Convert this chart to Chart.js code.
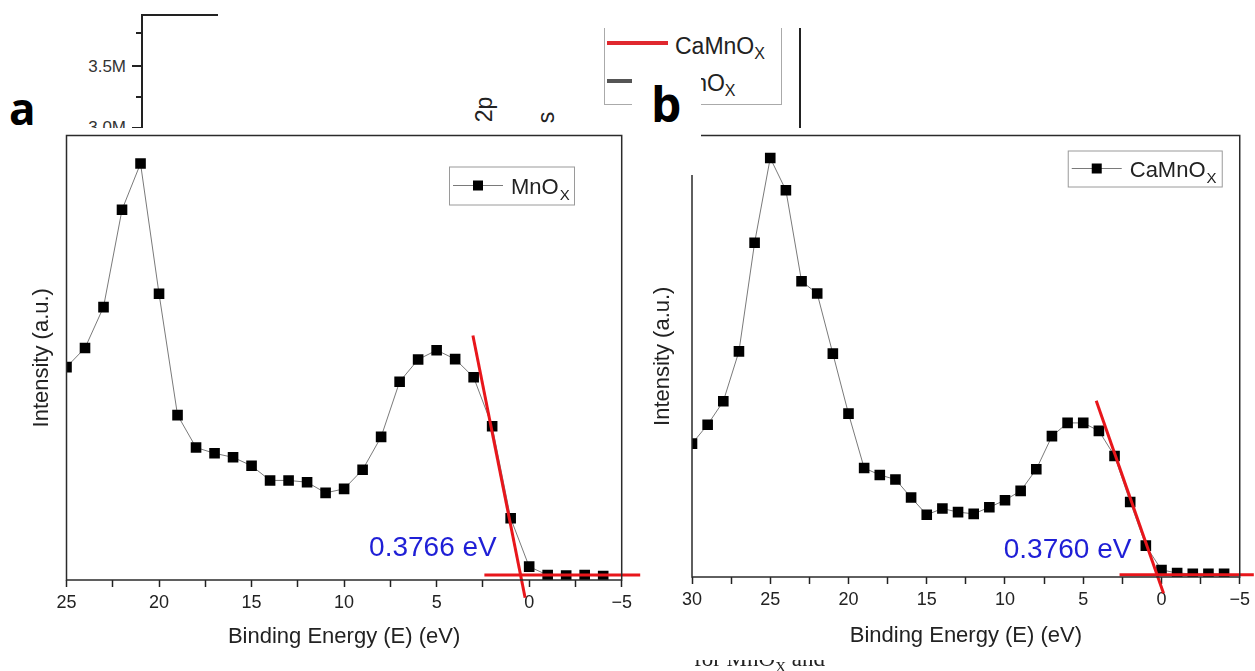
<!DOCTYPE html>
<html lang="en">
<head>
<meta charset="utf-8">
<title>Valence band spectra</title>
<script src="https://cdn.jsdelivr.net/npm/chart.js@4.4.1/dist/chart.umd.min.js"></script>
<style>
  html, body { margin: 0; padding: 0; background: #fff; }
  body { position: relative; width: 1255px; height: 671px; overflow: hidden;
         font-family: "Liberation Sans", Arial, sans-serif; color: #222; }
  .abs { position: absolute; }
  .ln { position: absolute; background: #222; }
  .panel { position: absolute; background: #fff; }
  .tag { position: absolute; font-family: "Open Sans", "DejaVu Sans", sans-serif; font-weight: bold; color: #000; line-height: 1; }
  .frag { position: absolute; font-size: 23px; line-height: 1; color: #222; white-space: nowrap; }
  .frag sub { font-size: 16px; vertical-align: -5px; }
</style>
</head>
<body>

<!-- bits of the figure lying underneath the two panels -->
<div class="ln" style="left:141px;top:14px;width:2px;height:120px"></div>
<div class="ln" style="left:141px;top:14px;width:77px;height:2px"></div>
<div class="ln" style="left:136px;top:32px;width:6px;height:2px"></div>
<div class="ln" style="left:132px;top:65px;width:10px;height:2px"></div>
<div class="ln" style="left:136px;top:96px;width:6px;height:2px"></div>
<div class="ln" style="left:132px;top:127px;width:10px;height:2px"></div>
<div class="abs" style="left:76px;top:57px;width:50px;text-align:right;font-size:17px;color:#333">3.5M</div>
<div class="abs" style="left:76px;top:118px;width:50px;text-align:right;font-size:17px;color:#333">3.0M</div>
<div class="tag" style="left:9px;top:86px;font-size:44px">a</div>
<div class="abs" style="left:472px;top:96px;font-size:23px;transform:rotate(-90deg);transform-origin:center">2p</div>
<div class="abs" style="left:541px;top:104px;font-size:23px;transform:rotate(-90deg);transform-origin:center">s</div>

<div class="abs" style="left:604px;top:28px;width:176px;height:76px;border:1.5px solid #aaa;border-top:none"></div>
<div class="abs" style="left:607px;top:41px;width:61px;height:4px;background:#e0282e"></div>
<div class="frag" style="left:675px;top:35px">CaMnO<sub>X</sub></div>
<div class="abs" style="left:607px;top:79px;width:25px;height:4px;background:#555"></div>
<div class="frag" style="left:675px;top:72px">MnO<sub>X</sub></div>
<div class="ln" style="left:799px;top:28px;width:2px;height:100px"></div>

<div class="panel" style="left:0;top:128px;width:645px;height:543px;z-index:1"><canvas id="chartA"></canvas></div>
<div class="panel" style="left:645px;top:128px;width:610px;height:543px;z-index:2"><canvas id="chartB"></canvas></div>

<div class="abs" style="left:632px;top:70px;width:69px;height:105px;background:#fff;z-index:3"></div>
<div class="tag" style="left:651px;top:80px;font-size:48px;z-index:4">b</div>

<div class="abs" style="left:690px;top:660px;width:150px;height:11px;overflow:hidden;z-index:5">
  <div style="position:absolute;left:4px;top:-13px;font-family:'Liberation Serif','Times New Roman',serif;font-size:23px;line-height:1;white-space:nowrap">for MnO<sub style="font-size:15px">X</sub> and</div>
</div>

<script>
// panel a : MnOx
const energyA = [25, 24, 23, 22, 21, 20, 19, 18, 17, 16, 15, 14, 13, 12, 11, 10, 9, 8, 7, 6, 5, 4, 3, 2, 1, 0, -1, -2, -3, -4];
const intensityA = [47.9, 52.2, 61.4, 83.3, 93.7, 64.4, 37.1, 29.8, 28.5, 27.6, 25.7, 22.4, 22.4, 22.0, 19.6,
                    20.5, 24.8, 32.2, 44.6, 49.6, 51.7, 49.7, 45.6, 34.6, 13.9, 3.0, 1.1, 1.0, 1.1, 0.9];
const edgeFitA = [{x: 3.04, y: 55.0}, {x: 0.22, y: -4.0}];
const baseFitA = [{x: 2.42, y: 1.1}, {x: -6.0, y: 1.1}];
const gapA = {x: 5.2, y: 7.2, text: '0.3766 eV'};
const nameA = ['MnO', 'X'];

// panel b : CaMnOx
const energyB = [30, 29, 28, 27, 26, 25, 24, 23, 22, 21, 20, 19, 18, 17, 16, 15, 14, 13, 12, 11, 10, 9, 8, 7, 6, 5, 4, 3, 2, 1, 0, -1, -2, -3, -4];
const intensityB = [30.2, 34.5, 39.8, 51.1, 75.7, 94.9, 87.6, 67.0, 64.2, 50.6, 37.0, 24.7, 23.1, 22.1, 18.0, 14.1, 15.5, 14.7,
                    14.3, 15.8, 17.4, 19.5, 24.4, 31.9, 34.9, 34.9, 33.1, 27.4, 17.0, 7.1, 1.6, 0.9, 0.7, 0.7, 0.7];
const edgeFitB = [{x: 4.17, y: 39.9}, {x: -0.13, y: -3.7}];
const baseFitB = [{x: 2.68, y: 0.5}, {x: -5.9, y: 0.5}];
const gapB = {x: 6.0, y: 6.1, text: '0.3760 eV'};
const nameB = ['CaMnO', 'X'];

Chart.defaults.font.family = '"Liberation Sans", Arial, sans-serif';
Chart.defaults.color = '#222';

// box around the plot
const framePlugin = {
  id: 'frame',
  afterDatasetsDraw(chart) {
    const a = chart.chartArea, ctx = chart.ctx;
    ctx.save();
    ctx.strokeStyle = '#2b2b2b';
    ctx.lineWidth = 1.5;
    ctx.strokeRect(a.left, a.top, a.right - a.left, a.bottom - a.top);
    ctx.restore();
  }
};

// legend inside the plot + the blue gap value
const insetPlugin = {
  id: 'inset',
  afterDraw(chart, args, o) {
    const ctx = chart.ctx, a = chart.chartArea;
    const left = a.right - o.right - o.w, top = a.top + o.top, mid = top + o.h / 2;
    ctx.save();
    ctx.fillStyle = '#fff';
    ctx.fillRect(left, top, o.w, o.h);
    ctx.strokeStyle = '#9a9a9a';
    ctx.lineWidth = 1;
    ctx.strokeRect(left + 0.5, top + 0.5, o.w, o.h);
    ctx.strokeStyle = '#7a7a7a';
    ctx.beginPath();
    ctx.moveTo(left + 4, mid);
    ctx.lineTo(left + 54, mid);
    ctx.stroke();
    ctx.fillStyle = '#000';
    ctx.fillRect(left + 24, mid - 5, 10, 10);
    ctx.fillStyle = '#222';
    ctx.textBaseline = 'alphabetic';
    ctx.font = '22px "Liberation Sans", Arial, sans-serif';
    ctx.fillText(o.name[0], left + 62, mid + 8);
    const w = ctx.measureText(o.name[0]).width;
    ctx.font = '15px "Liberation Sans", Arial, sans-serif';
    ctx.fillText(o.name[1], left + 62 + w + 1, mid + 14);

    const xs = chart.scales.x, ys = chart.scales.y;
    ctx.fillStyle = '#1f1fd6';
    ctx.font = '28px "Liberation Sans", Arial, sans-serif';
    ctx.textAlign = 'center';
    ctx.textBaseline = 'middle';
    ctx.fillText(o.gap.text, xs.getPixelForValue(o.gap.x), ys.getPixelForValue(o.gap.y));
    ctx.restore();
  }
};

function makeChart(id, energy, intensity, edgeFit, baseFit, xMax, box) {
  const pts = energy.map((e, i) => ({x: e, y: intensity[i]}));
  return new Chart(document.getElementById(id), {
    type: 'scatter',
    data: {
      datasets: [{
        data: pts,
        showLine: true,
        borderColor: '#7a7a7a',
        borderWidth: 1,
        pointStyle: 'rect',
        pointRadius: 7.5,
        pointBackgroundColor: '#000',
        pointBorderColor: '#000',
        pointBorderWidth: 0,
        clip: 0,
        order: 2
      }, {
        data: edgeFit, showLine: true, borderColor: '#e8161b', borderWidth: 3,
        pointRadius: 0, clip: false, order: 1
      }, {
        data: baseFit, showLine: true, borderColor: '#e8161b', borderWidth: 3,
        pointRadius: 0, clip: false, order: 1
      }]
    },
    options: {
      responsive: true,
      maintainAspectRatio: false,
      devicePixelRatio: 1,
      animation: false,
      layout: {padding: box.pad},
      scales: {
        x: {
          type: 'linear', reverse: true, min: -5, max: xMax,
          afterFit: s => { s.height = box.xh; },
          border: {display: false},
          grid: {drawOnChartArea: false, drawTicks: true, tickLength: 7, tickColor: '#222', tickWidth: 1.5},
          ticks: {
            stepSize: 2.5, autoSkip: false, maxRotation: 0, padding: 5,
            color: '#222', font: {size: 18},
            callback: v => (v % 5 !== 0 ? '' : (v < 0 ? '\u2212' + Math.abs(v) : String(v)))
          },
          title: {display: true, text: 'Binding Energy (E) (eV)', color: '#222',
                  font: {size: 22}, padding: {top: 0, bottom: box.xt}}
        },
        y: {
          type: 'linear', min: 0, max: 100,
          afterFit: s => { s.width = box.yw; },
          border: {display: false},
          grid: {display: false},
          ticks: {display: false},
          title: {display: true, text: 'Intensity (a.u.)', color: '#222',
                  font: {size: 22}, padding: {top: box.yt, bottom: 0}}
        }
      },
      plugins: {
        legend: {display: false},
        tooltip: {enabled: false},
        inset: box.inset
      }
    },
    plugins: [framePlugin, insetPlugin]
  });
}

makeChart('chartA', energyA, intensityA, edgeFitA, baseFitA, 25, {
  pad: {top: 5, left: 0, right: 23.3, bottom: 0},
  xh: 91, yw: 66.5, xt: 21, yt: 29,
  inset: {right: 47.7, top: 31, w: 125, h: 38, name: nameA, gap: gapA}
});

makeChart('chartB', energyB, intensityB, edgeFitB, baseFitB, 30, {
  pad: {top: 7, left: 0, right: 13, bottom: 0},
  xh: 94, yw: 47, xt: 22, yt: 5,
  inset: {right: 18, top: 15, w: 154, h: 36, name: nameB, gap: gapB}
});
</script>
</body>
</html>
